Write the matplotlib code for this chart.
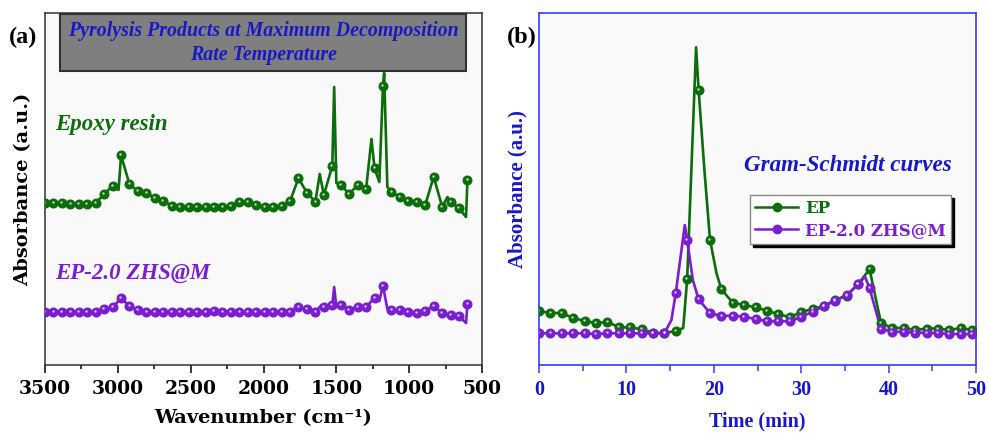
import numpy as np
import matplotlib.pyplot as plt
from matplotlib.patches import Rectangle
from matplotlib.lines import Line2D
from matplotlib.transforms import offset_copy

# ---- (a) FTIR of pyrolysis products: marker points (regular grid) ----
wn_marks = [3500, 3442, 3384, 3326, 3268, 3210, 3152, 3094, 3036, 2978,
            2920, 2862, 2804, 2746, 2688, 2630, 2572, 2514, 2456, 2398,
            2340, 2282, 2224, 2166, 2108, 2050, 1992, 1934, 1876, 1818,
            1760, 1702, 1644, 1586, 1528, 1470, 1412, 1354, 1296, 1238,
            1180, 1122, 1064, 1006, 948, 890, 832, 774, 716, 658, 600]
ep_marks = [1.617, 1.617, 1.617, 1.61, 1.607, 1.607, 1.623, 1.707, 1.793, 2.097,
            1.807, 1.74, 1.717, 1.673, 1.64, 1.593, 1.583, 1.583, 1.583, 1.583,
            1.583, 1.583, 1.59, 1.63, 1.63, 1.60, 1.58, 1.58, 1.593, 1.64,
            1.867, 1.723, 1.633, 1.70, 1.99, 1.805, 1.71, 1.80, 1.757, 1.967,
            2.79, 1.733, 1.677, 1.643, 1.633, 1.60, 1.883, 1.583, 1.633, 1.567, 1.85]
zhs_marks = [0.53, 0.53, 0.53, 0.53, 0.53, 0.53, 0.53, 0.565, 0.577, 0.667,
             0.59, 0.55, 0.53, 0.53, 0.53, 0.53, 0.53, 0.53, 0.53, 0.53,
             0.543, 0.535, 0.53, 0.53, 0.53, 0.53, 0.53, 0.53, 0.53, 0.53,
             0.58, 0.557, 0.533, 0.577, 0.60, 0.60, 0.55, 0.577, 0.577, 0.675,
             0.795, 0.55, 0.55, 0.533, 0.523, 0.543, 0.59, 0.517, 0.50, 0.49, 0.61]
# sharp bands between marker points
ep_peak_wn = [2995, 1614, 1515, 1500, 1259, 1205, 1172, 1150, 737, 610]
ep_peak_ab = [1.75, 1.91, 2.78, 1.82, 2.26, 1.83, 2.92, 1.78, 1.68, 1.48]
zhs_peak_wn = [1602, 1515, 1500, 1205, 1150, 610]
zhs_peak_ab = [0.60, 0.78, 0.58, 0.64, 0.56, 0.42]

# ---- (b) Gram-Schmidt curves ----
t_marks = [0.00, 1.30, 2.61, 3.91, 5.22, 6.52, 7.82, 9.13, 10.43, 11.74,
           13.04, 14.34, 15.65, 16.95, 18.26, 19.56, 20.86, 22.17, 23.47, 24.78,
           26.08, 27.38, 28.69, 29.99, 31.30, 32.60, 33.90, 35.21, 36.51, 37.82,
           39.12, 40.42, 41.73, 43.03, 44.34, 45.64, 46.94, 48.25, 49.55]
gs_ep = [0.543, 0.517, 0.523, 0.467, 0.443, 0.417, 0.433, 0.377, 0.377, 0.357,
         0.323, 0.32, 0.34, 0.857, 2.75, 1.255, 0.757, 0.623, 0.60, 0.577,
         0.543, 0.51, 0.477, 0.53, 0.56, 0.59, 0.65, 0.695, 0.81, 0.957,
         0.42, 0.37, 0.37, 0.35, 0.365, 0.365, 0.35, 0.37, 0.35]
gs_zhs = [0.317, 0.317, 0.317, 0.317, 0.317, 0.31, 0.317, 0.317, 0.317, 0.317,
          0.317, 0.317, 0.723, 1.25, 0.657, 0.52, 0.49, 0.495, 0.483, 0.46,
          0.438, 0.438, 0.438, 0.48, 0.533, 0.59, 0.643, 0.70, 0.807, 0.767,
          0.357, 0.335, 0.33, 0.325, 0.32, 0.32, 0.31, 0.31, 0.31]
gs_ep_peak_t = [16.5, 17.97, 18.95, 20.3]
gs_ep_peak_ab = [0.37, 3.177, 1.92, 0.92]
gs_zhs_peak_t = [15.15, 16.68, 17.6, 37.3]
gs_zhs_peak_ab = [0.45, 1.40, 0.85, 0.883]

green = '#0b6e0b'
purple = '#7a1ecf'
blue = '#1818c8'
serif_b = 'DejaVu Serif'
times = 'Liberation Serif'


def ball_curve(ax, xm, ym, xp, yp, color):
    x = np.concatenate([xm, xp])
    y = np.concatenate([ym, yp])
    order = np.argsort(x)
    ax.plot(x[order], y[order], color=color, lw=1.9, zorder=2)
    ax.plot(xm, ym, 'o', ms=6.2, mfc=color, mec=color, zorder=3)
    # small shine on each ball
    shine = offset_copy(ax.transData, fig=ax.figure, x=-0.6, y=0.6, units='points')
    ax.plot(xm, ym, 'o', ms=1.7, mfc='white', mec='none', alpha=0.75,
            transform=shine, zorder=4)


fig = plt.figure(figsize=(9.89, 4.33), dpi=100)
ax1 = fig.add_axes([0.0455, 0.157, 0.4419, 0.813], facecolor='#f9f9f9')
ax2 = fig.add_axes([0.545, 0.157, 0.4419, 0.813], facecolor='#f9f9f9')

# panel (a)
ball_curve(ax1, wn_marks, ep_marks, ep_peak_wn, ep_peak_ab, green)
ball_curve(ax1, wn_marks, zhs_marks, zhs_peak_wn, zhs_peak_ab, purple)
ax1.set_xlim(3500, 500)
ax1.set_ylim(0, 3.52)
ax1.set_yticks([])
ax1.set_xticks([3500, 3000, 2500, 2000, 1500, 1000, 500])
ax1.set_xticks(np.arange(500, 3501, 250), minor=True)
ax1.tick_params(axis='x', which='major', direction='out', length=6, width=1.1, pad=5)
ax1.tick_params(axis='x', which='minor', direction='out', length=3, width=1.1)
for lab in ax1.get_xticklabels():
    lab.set_fontfamily(serif_b)
    lab.set_fontweight('bold')
    lab.set_fontsize(13.5)
for s in ax1.spines.values():
    s.set_color('#333333')
    s.set_linewidth(1.1)
ax1.set_xlabel('Wavenumber (cm⁻¹)', fontfamily=serif_b, fontweight='bold',
               fontsize=14, labelpad=8)
ax1.set_ylabel('Absorbance (a.u.)', fontfamily=serif_b, fontweight='bold',
               fontsize=14, labelpad=9)

ax1.add_patch(Rectangle((0.034, 0.835), 0.929, 0.162, transform=ax1.transAxes,
                        facecolor='#7f7f7f', edgecolor='#303030', lw=1.5, zorder=5))
ax1.text(0.5, 0.915, 'Pyrolysis Products at Maximum Decomposition\nRate Temperature',
         transform=ax1.transAxes, ha='center', va='center', color=blue,
         fontfamily=times, fontweight='bold', style='italic', fontsize=14.3,
         linespacing=1.25, zorder=6)
ax1.text(3431, 2.40, 'Epoxy resin', color=green, fontfamily=times,
         fontweight='bold', style='italic', fontsize=16.5, va='center')
ax1.text(3431, 0.92, 'EP-2.0 ZHS@M', color=purple, fontfamily=times,
         fontweight='bold', style='italic', fontsize=16.5, va='center')
fig.text(0.009, 0.9, '(a)', fontfamily=times, fontweight='bold', fontsize=17.5)

# panel (b)
ball_curve(ax2, t_marks, gs_ep, gs_ep_peak_t, gs_ep_peak_ab, green)
ball_curve(ax2, t_marks, gs_zhs, gs_zhs_peak_t, gs_zhs_peak_ab, purple)
ax2.set_xlim(0, 50)
ax2.set_ylim(0, 3.52)
ax2.set_yticks([])
ax2.set_xticks([0, 10, 20, 30, 40, 50])
ax2.set_xticks(np.arange(0, 51, 5), minor=True)
ax2.tick_params(axis='x', which='major', direction='out', length=6, width=1.1,
                color='#3a3aff', labelcolor=blue, pad=5)
ax2.tick_params(axis='x', which='minor', direction='out', length=4, width=1.1,
                color='#3a3aff')
for lab in ax2.get_xticklabels():
    lab.set_fontfamily(times)
    lab.set_fontweight('bold')
    lab.set_fontsize(14.5)
for s in ax2.spines.values():
    s.set_color('#3a3aff')
    s.set_linewidth(1.2)
ax2.set_xlabel('Time (min)', fontfamily=times, fontweight='bold', fontsize=14.5,
               color=blue, labelpad=8)
ax2.set_ylabel('Absorbance (a.u.)', fontfamily=times, fontweight='bold',
               fontsize=15, color=blue, labelpad=8)
ax2.text(23.5, 2.0, 'Gram-Schmidt curves', color=blue, fontfamily=times,
         fontweight='bold', style='italic', fontsize=16.6, va='center')
fig.text(0.513, 0.9, '(b)', fontfamily=times, fontweight='bold', fontsize=17.5)

handles = [Line2D([], [], color=green, lw=1.8, marker='o', ms=6, mfc=green, mec=green),
           Line2D([], [], color=purple, lw=1.8, marker='o', ms=6, mfc=purple, mec=purple)]
leg = ax2.legend(handles, ['EP', 'EP-2.0 ZHS@M'], loc='upper left',
                 bbox_to_anchor=(0.483, 0.483), borderaxespad=0, frameon=True,
                 fancybox=False, shadow={'color': 'black', 'alpha': 1}, framealpha=1,
                 edgecolor='#888888', labelcolor='linecolor', handlelength=2.6,
                 handletextpad=0.4, borderpad=0.3, labelspacing=0.3,
                 prop={'family': serif_b, 'weight': 'bold', 'size': 12})
leg.get_frame().set_linewidth(1.0)

fig.savefig('out.png', dpi=100)
